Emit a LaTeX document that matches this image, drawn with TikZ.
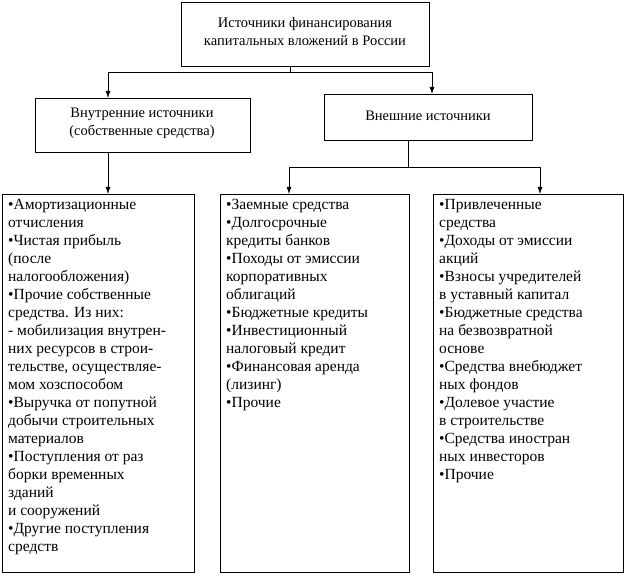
\documentclass[tikz,border=0pt]{standalone}
\usepackage{fontspec}
\setmainfont{Liberation Serif}
\usetikzlibrary{arrows.meta}
\begin{document}
\begin{tikzpicture}[x=1pt,y=-1pt,
  box/.style={draw,line width=0.8pt},
  txt/.style={anchor=north west,align=left,inner sep=0pt,font=\fontsize{15.5}{18}\selectfont},
  ctxt/.style={align=center,inner sep=0pt,font=\fontsize{14.5}{18}\selectfont},
  arr/.style={-{Latex[length=7pt,width=5pt]},line width=0.8pt},
  ln/.style={line width=0.8pt}]
\useasboundingbox (0,0) rectangle (625,577);
\draw[box] (181,2) rectangle (429,66);
\node[ctxt] (top) at (305,32) {Источники финансирования\\капитальных вложений в России};
\coordinate (topb) at (290,66);
\draw[box] (35,98) rectangle (250,152);
\node[ctxt] (in) at (142,123) {Внутренние источники\\(собственные средства)};
\draw[box] (324,94) rectangle (532,140);
\node[ctxt] (ex) at (428,116) {Внешние источники};
\draw[box] (2,194) rectangle (194,572);
\draw[box] (220,194) rectangle (409,572);
\draw[box] (433,194) rectangle (623,572);
\coordinate (j1) at (290,72);
\draw[ln] (topb) -- (j1);
\draw[ln] (108,72) -- (432,72);
\draw[arr] (108,72) -- (108,98);
\draw[arr] (432,72) -- (432,94);
\draw[arr] (108,152) -- (108,194);
\draw[ln] (408,140) -- (408,167);
\draw[ln] (289,167) -- (540,167);
\draw[arr] (289,167) -- (289,194);
\draw[arr] (540,167) -- (540,194);
\node[txt] (l1) at (8,199) {•Амортизационные\\отчисления\\•Чистая прибыль\\(после\\налогообложения)\\•Прочие собственные\\средства. Из них:\\- мобилизация внутрен-\\них ресурсов в строи-\\тельстве, осуществляе-\\мом хозспособом\\•Выручка от попутной\\добычи строительных\\материалов\\•Поступления от раз\\борки временных\\зданий\\и сооружений\\•Другие поступления\\средств};
\node[txt] (l2) at (226,199) {•Заемные средства\\•Долгосрочные\\кредиты банков\\•Походы от эмиссии\\корпоративных\\облигаций\\•Бюджетные кредиты\\•Инвестиционный\\налоговый кредит\\•Финансовая аренда\\(лизинг)\\•Прочие};
\node[txt] (l3) at (439,199) {•Привлеченные\\средства\\•Доходы от эмиссии\\акций\\•Взносы учредителей\\в уставный капитал\\•Бюджетные средства\\на безвозвратной\\основе\\•Средства внебюджет\\ных фондов\\•Долевое участие\\в строительстве\\•Средства иностран\\ных инвесторов\\•Прочие};
\end{tikzpicture}
\end{document}
